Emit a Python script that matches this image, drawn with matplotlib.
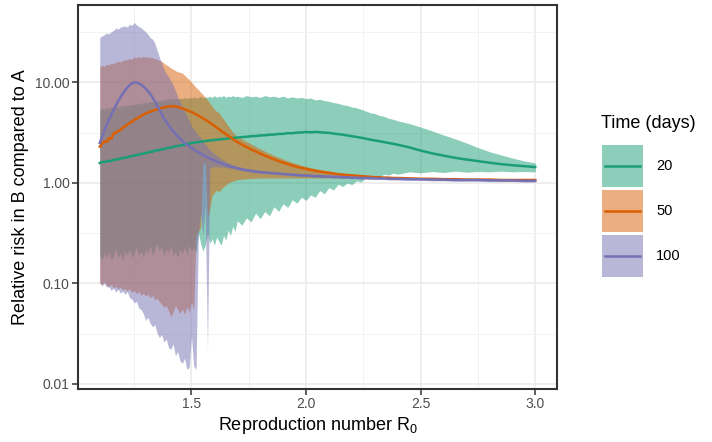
import numpy as np
import matplotlib
matplotlib.use("Agg")
import matplotlib.pyplot as plt
from matplotlib.patches import Rectangle
from matplotlib.lines import Line2D

plt.rcParams['font.family'] = ['Liberation Sans', 'DejaVu Sans']
plt.rcParams['mathtext.default'] = 'regular'

# R0 grid: fine where the bands are noisy, coarser on the smooth tail
r0 = np.concatenate([np.round(np.arange(1.10, 1.705, 0.01), 2),
                     np.round(np.arange(1.72, 2.405, 0.02), 2),
                     np.round(np.arange(2.45, 3.005, 0.05), 2)])

times = ['20', '50', '100']
colors = ['#1B9E77', '#D95F02', '#7570B3']

# ---- 20 days
mid_20 = [1.58, 1.62, 1.61, 1.64, 1.66, 1.65, 1.70, 1.71, 1.72, 1.76, 1.76,
          1.79, 1.80, 1.84, 1.84, 1.87, 1.90, 1.90, 1.95, 1.95, 1.99,
          2.00, 2.05, 2.04, 2.10, 2.10, 2.13, 2.17, 2.16, 2.22, 2.23,
          2.26, 2.27, 2.32, 2.33, 2.36, 2.38, 2.40, 2.45, 2.45, 2.50,
          2.51, 2.54, 2.55, 2.58, 2.58, 2.62, 2.62, 2.65, 2.66, 2.67,
          2.70, 2.70, 2.73, 2.74, 2.75, 2.78, 2.78, 2.81, 2.82, 2.83] + \
         [2.86, 2.88, 2.92, 2.93, 2.97, 2.98, 3.02, 3.03, 3.07, 3.08,
          3.13, 3.12, 3.17, 3.18, 3.21, 3.19, 3.22, 3.20, 3.17, 3.15,
          3.10, 3.06, 3.02, 2.97, 2.92, 2.87, 2.82, 2.76, 2.70, 2.65,
          2.60, 2.55, 2.50, 2.45, 2.40] + \
         [2.26, 2.10, 1.97, 1.87, 1.78, 1.71, 1.65, 1.59, 1.54, 1.50, 1.47, 1.44]
hi_20 = [5.3, 5.5, 5.4, 5.6, 5.5, 5.7, 5.6, 5.8, 5.6, 5.8, 5.9,
         5.8, 6.0, 5.9, 6.1, 6.0, 6.2, 6.0, 6.3, 6.2, 6.4,
         6.3, 6.5, 6.4, 6.6, 6.5, 6.7, 6.6, 6.8, 6.7, 6.9,
         6.8, 6.9, 7.0, 6.8, 7.0, 6.9, 7.1, 6.9, 7.1, 7.0,
         7.2, 7.0, 7.1, 7.3, 7.0, 7.2, 7.1, 7.3, 7.1, 7.4,
         7.1, 7.3, 7.2, 7.4, 7.1, 7.3, 7.2, 7.4, 7.2, 7.3] + \
        [7.1, 7.4, 7.2, 7.3, 7.1, 7.4, 7.2, 7.3, 7.1, 7.3,
         7.0, 7.2, 7.0, 7.1, 6.9, 7.0, 6.7, 6.8, 6.6, 6.5,
         6.3, 6.2, 6.0, 5.9, 5.7, 5.6, 5.4, 5.2, 5.0, 4.9,
         4.7, 4.6, 4.4, 4.3, 4.15] + \
        [3.9, 3.6, 3.3, 3.0, 2.75, 2.5, 2.25, 2.05, 1.9, 1.77, 1.66, 1.58]
lo_20 = [0.19, 0.17, 0.20, 0.18, 0.21, 0.17, 0.19, 0.22, 0.18, 0.20, 0.17,
         0.21, 0.19, 0.22, 0.18, 0.20, 0.23, 0.19, 0.21, 0.18, 0.22,
         0.20, 0.24, 0.19, 0.22, 0.25, 0.21, 0.23, 0.19, 0.22, 0.20,
         0.24, 0.19, 0.21, 0.18, 0.22, 0.20, 0.23, 0.19, 0.24, 0.21,
         0.23, 0.20, 0.32, 0.25, 0.21, 0.24, 0.31, 0.25, 0.28, 0.24,
         0.29, 0.26, 0.24, 0.30, 0.27, 0.34, 0.30, 0.37, 0.33, 0.42] + \
        [0.38, 0.45, 0.41, 0.50, 0.44, 0.52, 0.47, 0.58, 0.52, 0.62,
         0.57, 0.68, 0.63, 0.72, 0.67, 0.76, 0.72, 0.84, 0.78, 0.90,
         0.85, 0.97, 0.92, 1.00, 0.96, 1.05, 1.02, 1.12, 1.08, 1.18,
         1.15, 1.22, 1.20, 1.25, 1.22] + \
        [1.29, 1.26, 1.30, 1.27, 1.31, 1.28, 1.30, 1.29, 1.31, 1.29, 1.30, 1.29]

# ---- 50 days
mid_50 = [2.30, 2.45, 2.60, 2.55, 2.80, 2.75, 3.10, 3.15, 3.30, 3.35, 3.55,
          3.65, 3.80, 3.95, 4.05, 4.25, 4.35, 4.50, 4.62, 4.80, 4.90,
          5.05, 5.10, 5.25, 5.30, 5.42, 5.50, 5.58, 5.65, 5.72, 5.76,
          5.80, 5.80, 5.78, 5.72, 5.62, 5.52, 5.42, 5.30, 5.20, 5.08,
          4.95, 4.82, 4.68, 4.54, 4.40, 4.26, 4.12, 3.98, 3.84, 3.70,
          3.56, 3.43, 3.30, 3.18, 3.06, 2.95, 2.84, 2.74, 2.64, 2.55] + \
         [2.41, 2.28, 2.16, 2.06, 1.96, 1.87, 1.79, 1.72, 1.65, 1.59,
          1.54, 1.49, 1.45, 1.41, 1.38, 1.35, 1.32, 1.30, 1.28, 1.26,
          1.24, 1.22, 1.21, 1.20, 1.19, 1.18, 1.17, 1.16, 1.15, 1.14,
          1.14, 1.13, 1.13, 1.12, 1.12] + \
         [1.11, 1.10, 1.10, 1.09, 1.09, 1.08, 1.08, 1.08, 1.07, 1.07, 1.07, 1.07]
hi_50 = [14.3, 14.8, 14.5, 15.2, 15.0, 15.6, 15.4, 15.9, 16.2, 16.0, 16.6,
         16.7, 16.9, 17.3, 17.1, 17.9, 17.6, 18.1, 17.8, 18.2, 17.9,
         18.0, 17.6, 17.7, 17.2, 17.0, 16.6, 16.2, 15.6, 15.0, 14.5,
         13.9, 13.6, 13.1, 12.8, 12.6, 12.4, 11.8, 11.2, 10.7, 10.1,
         9.5, 8.9, 8.5, 8.0, 7.6, 7.1, 6.7, 6.2, 5.8, 5.4,
         5.15, 5.0, 4.6, 4.3, 4.0, 3.7, 3.45, 3.2, 3.05, 2.9] + \
        [2.75, 2.58, 2.44, 2.30, 2.18, 2.07, 1.97, 1.88, 1.80, 1.73,
         1.66, 1.60, 1.55, 1.50, 1.46, 1.42, 1.39, 1.36, 1.33, 1.31,
         1.29, 1.27, 1.25, 1.24, 1.23, 1.21, 1.20, 1.19, 1.18, 1.17,
         1.16, 1.16, 1.15, 1.15, 1.14] + \
        [1.13, 1.12, 1.11, 1.11, 1.10, 1.10, 1.09, 1.09, 1.09, 1.08, 1.08, 1.08]
lo_50 = [0.100, 0.098, 0.105, 0.096, 0.093, 0.098, 0.090, 0.094, 0.088, 0.092, 0.086,
         0.089, 0.084, 0.088, 0.081, 0.085, 0.079, 0.083, 0.076, 0.080, 0.075,
         0.078, 0.072, 0.076, 0.069, 0.071, 0.066, 0.062, 0.058, 0.060, 0.053,
         0.047, 0.052, 0.060, 0.055, 0.050, 0.056, 0.049, 0.058, 0.052, 0.066,
         0.055, 0.30, 0.33, 0.36, 1.6, 1.6, 0.45, 0.55, 0.75, 0.80,
         0.85, 0.82, 0.87, 0.92, 0.95, 1.00, 1.02, 1.04, 1.06, 1.08] + \
        [1.09, 1.10, 1.11, 1.11, 1.12, 1.12, 1.12, 1.12, 1.12, 1.12,
         1.12, 1.12, 1.12, 1.12, 1.12, 1.12, 1.12, 1.12, 1.12, 1.12,
         1.12, 1.12, 1.12, 1.12, 1.12, 1.12, 1.12, 1.12, 1.11, 1.11,
         1.11, 1.11, 1.11, 1.10, 1.10] + \
        [1.09, 1.08, 1.08, 1.07, 1.07, 1.06, 1.06, 1.06, 1.05, 1.05, 1.05, 1.05]

# ---- 100 days
mid_100 = [2.50, 2.90, 3.30, 3.75, 4.25, 4.75, 5.30, 5.90, 6.50, 7.10, 7.70,
           8.30, 8.90, 9.40, 9.80, 10.0, 10.0, 9.80, 9.50, 9.10, 8.70,
           8.20, 7.70, 7.10, 6.50, 5.90, 5.35, 4.85, 4.40, 4.05, 3.75,
           3.50, 3.28, 3.08, 2.90, 2.75, 2.62, 2.50, 2.40, 2.31, 2.23,
           2.15, 2.08, 2.02, 1.96, 1.90, 1.85, 1.80, 1.75, 1.71, 1.67,
           1.63, 1.60, 1.57, 1.54, 1.51, 1.49, 1.46, 1.44, 1.42, 1.40] + \
          [1.37, 1.34, 1.32, 1.30, 1.28, 1.27, 1.26, 1.25, 1.24, 1.23,
           1.22, 1.21, 1.20, 1.19, 1.19, 1.18, 1.17, 1.17, 1.16, 1.16,
           1.15, 1.15, 1.14, 1.14, 1.13, 1.13, 1.12, 1.12, 1.12, 1.11,
           1.11, 1.11, 1.10, 1.10, 1.10] + \
          [1.09, 1.09, 1.08, 1.08, 1.07, 1.07, 1.07, 1.06, 1.06, 1.06, 1.05, 1.05]
hi_100 = [28, 29, 30, 31, 30.5, 32, 33, 34.8, 34, 35.5, 36,
          36.5, 35.5, 38, 37, 39.5, 37.5, 36, 35, 33.5, 32,
          30, 28, 27, 24.7, 21, 17.9, 15.5, 13.5, 12.3, 11.4,
          10.4, 9.4, 8.3, 7.2, 6.5, 5.8, 5.2, 4.7, 4.2, 3.7,
          3.45, 3.2, 3.0, 2.8, 2.6, 2.45, 2.3, 2.15, 2.05, 1.95,
          1.87, 1.80, 1.74, 1.68, 1.63, 1.59, 1.55, 1.52, 1.49, 1.46] + \
         [1.42, 1.39, 1.36, 1.34, 1.32, 1.31, 1.30, 1.28, 1.27, 1.26,
          1.25, 1.24, 1.23, 1.22, 1.22, 1.21, 1.20, 1.20, 1.19, 1.19,
          1.18, 1.18, 1.17, 1.17, 1.16, 1.16, 1.15, 1.15, 1.15, 1.14,
          1.14, 1.14, 1.13, 1.13, 1.13] + \
         [1.12, 1.12, 1.11, 1.11, 1.10, 1.10, 1.10, 1.09, 1.09, 1.09, 1.08, 1.08]
lo_100 = [0.101, 0.095, 0.100, 0.092, 0.093, 0.085, 0.090, 0.082, 0.088, 0.080, 0.084,
          0.078, 0.083, 0.072, 0.070, 0.064, 0.066, 0.057, 0.055, 0.050, 0.043,
          0.046, 0.040, 0.037, 0.039, 0.032, 0.029, 0.031, 0.026, 0.028, 0.023,
          0.022, 0.025, 0.019, 0.021, 0.017, 0.016, 0.018, 0.014, 0.0145, 0.030,
          0.015, 0.014, 0.30, 0.50, 0.30, 0.60, 0.022, 1.40, 1.45, 1.45,
          1.45, 1.45, 1.44, 1.43, 1.42, 1.41, 1.40, 1.39, 1.37, 1.35] + \
         [1.33, 1.30, 1.28, 1.26, 1.25, 1.24, 1.23, 1.22, 1.21, 1.20,
          1.19, 1.18, 1.17, 1.16, 1.16, 1.15, 1.14, 1.14, 1.13, 1.13,
          1.12, 1.12, 1.11, 1.11, 1.10, 1.10, 1.09, 1.09, 1.09, 1.08,
          1.08, 1.08, 1.07, 1.07, 1.07] + \
         [1.06, 1.06, 1.05, 1.05, 1.04, 1.04, 1.04, 1.03, 1.03, 1.03, 1.02, 1.02]

mids = [mid_20, mid_50, mid_100]
his = [hi_20, hi_50, hi_100]
los = [lo_20, lo_50, lo_100]

fig = plt.figure(figsize=(7.12, 4.42), dpi=100)
ax = fig.add_axes([78 / 712, 1 - 389 / 442, (557 - 78) / 712, (389 - 5) / 442])

for lo, hi, c in zip(los, his, colors):
    ax.fill_between(r0, lo, hi, color=c, alpha=0.5, linewidth=0, zorder=2)
for mid, c in zip(mids, colors):
    ax.plot(r0, mid, color=c, lw=1.8, zorder=3, solid_joinstyle='round')

ax.set_yscale('log')
ax.set_xlim(1.005, 3.095)
ax.set_ylim(0.0089, 59)
ax.set_yticks([0.01, 0.1, 1, 10])
ax.set_yticklabels(['0.01', '0.10', '1.00', '10.00'])
ax.set_yticks([10 ** -1.5, 10 ** -0.5, 10 ** 0.5, 10 ** 1.5], minor=True)
ax.yaxis.set_minor_formatter(plt.NullFormatter())
ax.set_xticks([1.5, 2.0, 2.5, 3.0])
ax.set_xticklabels(['1.5', '2.0', '2.5', '3.0'])
ax.set_xticks([1.25, 1.75, 2.25, 2.75], minor=True)

ax.grid(which='major', color='#EBEBEB', lw=1.2, zorder=0)
ax.grid(which='minor', color='#F2F2F2', lw=0.7, zorder=0)
ax.set_axisbelow(True)
ax.tick_params(which='major', length=4, width=1.1, color='#333333',
               labelcolor='#4D4D4D', labelsize=10, pad=2)
ax.tick_params(which='minor', length=0)
for s in ax.spines.values():
    s.set_color('#333333')
    s.set_linewidth(1.5)

ax.set_xlabel('Reproduction number R$_0$', fontsize=13, labelpad=3)
ax.set_ylabel('Relative risk in B compared to A', fontsize=13, labelpad=4)

# legend drawn by hand to get the large square ggplot keys
W, H = 712, 442
fig.text(601 / W, 1 - 124 / H, 'Time (days)', fontsize=13, va='center', ha='left')
key_tops = [145, 190, 235]
for top, c, lab in zip(key_tops, colors, times):
    fig.patches.append(Rectangle((602 / W, 1 - (top + 42) / H), 41 / W, 42 / H,
                                 transform=fig.transFigure, facecolor=c,
                                 alpha=0.5, edgecolor='none'))
    yc = 1 - (top + 21) / H
    fig.lines.append(Line2D([605 / W, 640 / W], [yc, yc], transform=fig.transFigure,
                            color=c, lw=1.8))
    fig.text(656 / W, yc, lab, fontsize=10.5, va='center', ha='left')

fig.savefig('out.png', dpi=100)
